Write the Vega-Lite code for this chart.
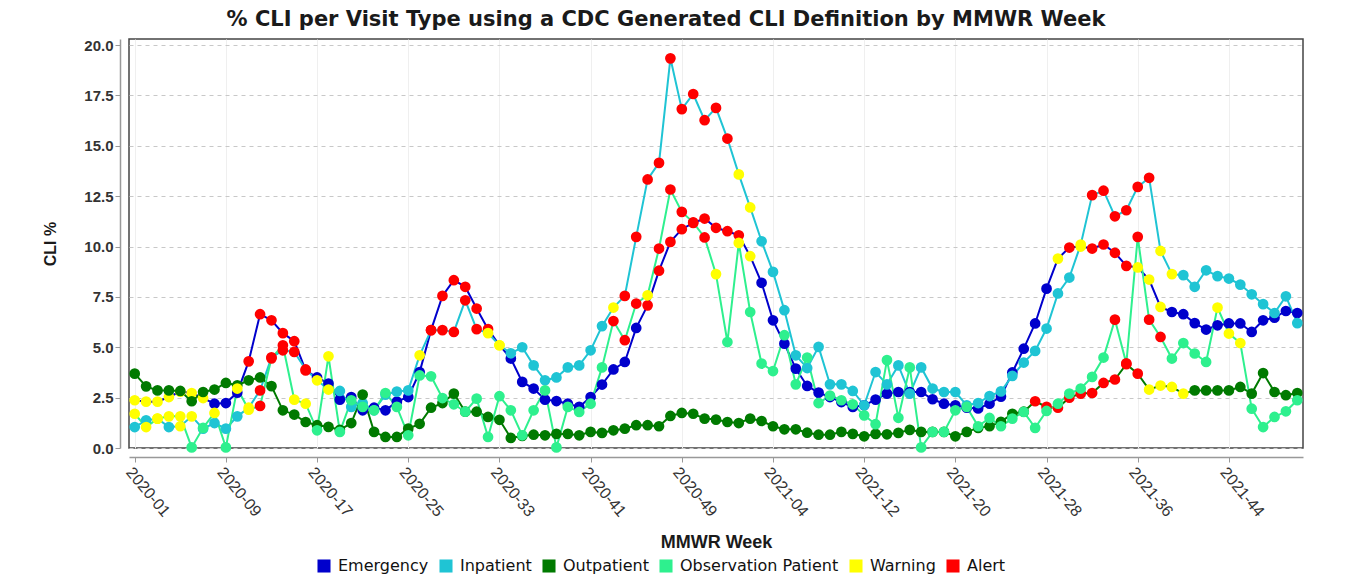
{
"$schema": "https://vega.github.io/schema/vega-lite/v6.json",
"width": 1174, "height": 409,
"autosize": {"type": "none"},
"padding": {"left": 129, "top": 39, "right": 66, "bottom": 132},
"background": "white",
"title": {"text": "% CLI per Visit Type using a CDC Generated CLI Definition by MMWR Week", "font": "DejaVu Sans", "fontSize": 21, "fontWeight": "bold", "color": "#1a1a1a", "offset": 8, "anchor": "middle", "dx": -50},
"config": {"view": {"stroke": "#444444", "strokeWidth": 1.5}, "font": "Liberation Sans"},
"datasets": {"cli": [
{"w":"2020-01","t":"Emergency","v":2.37,"s":"Warning"},{"w":"2020-02","t":"Emergency","v":2.3,"s":"Warning"},{"w":"2020-03","t":"Emergency","v":2.3,"s":"Warning"},{"w":"2020-04","t":"Emergency","v":2.53,"s":"Warning"},{"w":"2020-05","t":"Emergency","v":2.8,"s":"Warning"},{"w":"2020-06","t":"Emergency","v":2.73,"s":"Warning"},{"w":"2020-07","t":"Emergency","v":2.48,"s":"Warning"},{"w":"2020-08","t":"Emergency","v":2.2,"s":"Emergency"},{"w":"2020-09","t":"Emergency","v":2.23,"s":"Emergency"},{"w":"2020-10","t":"Emergency","v":2.75,"s":"Emergency"},
{"w":"2020-11","t":"Emergency","v":4.3,"s":"Alert"},{"w":"2020-12","t":"Emergency","v":6.64,"s":"Alert"},{"w":"2020-13","t":"Emergency","v":6.34,"s":"Alert"},{"w":"2020-14","t":"Emergency","v":5.7,"s":"Alert"},{"w":"2020-15","t":"Emergency","v":5.3,"s":"Alert"},{"w":"2020-16","t":"Emergency","v":3.85,"s":"Alert"},{"w":"2020-17","t":"Emergency","v":3.5,"s":"Emergency"},{"w":"2020-18","t":"Emergency","v":3.2,"s":"Emergency"},{"w":"2020-19","t":"Emergency","v":2.4,"s":"Emergency"},{"w":"2020-20","t":"Emergency","v":2.53,"s":"Emergency"},
{"w":"2020-21","t":"Emergency","v":1.87,"s":"Emergency"},{"w":"2020-22","t":"Emergency","v":2.0,"s":"Emergency"},{"w":"2020-23","t":"Emergency","v":1.87,"s":"Emergency"},{"w":"2020-24","t":"Emergency","v":2.3,"s":"Emergency"},{"w":"2020-25","t":"Emergency","v":2.53,"s":"Emergency"},{"w":"2020-26","t":"Emergency","v":3.77,"s":"Emergency"},{"w":"2020-27","t":"Emergency","v":5.85,"s":"Alert"},{"w":"2020-28","t":"Emergency","v":7.55,"s":"Alert"},{"w":"2020-29","t":"Emergency","v":8.33,"s":"Alert"},{"w":"2020-30","t":"Emergency","v":8.0,"s":"Alert"},
{"w":"2020-31","t":"Emergency","v":6.92,"s":"Alert"},{"w":"2020-32","t":"Emergency","v":5.9,"s":"Alert"},{"w":"2020-33","t":"Emergency","v":5.1,"s":"Warning"},{"w":"2020-34","t":"Emergency","v":4.44,"s":"Emergency"},{"w":"2020-35","t":"Emergency","v":3.28,"s":"Emergency"},{"w":"2020-36","t":"Emergency","v":2.95,"s":"Emergency"},{"w":"2020-37","t":"Emergency","v":2.4,"s":"Emergency"},{"w":"2020-38","t":"Emergency","v":2.33,"s":"Emergency"},{"w":"2020-39","t":"Emergency","v":2.2,"s":"Emergency"},{"w":"2020-40","t":"Emergency","v":2.04,"s":"Emergency"},
{"w":"2020-41","t":"Emergency","v":2.53,"s":"Emergency"},{"w":"2020-42","t":"Emergency","v":3.15,"s":"Emergency"},{"w":"2020-43","t":"Emergency","v":3.9,"s":"Emergency"},{"w":"2020-44","t":"Emergency","v":4.27,"s":"Emergency"},{"w":"2020-45","t":"Emergency","v":5.96,"s":"Emergency"},{"w":"2020-46","t":"Emergency","v":7.08,"s":"Alert"},{"w":"2020-47","t":"Emergency","v":8.8,"s":"Alert"},{"w":"2020-48","t":"Emergency","v":10.23,"s":"Alert"},{"w":"2020-49","t":"Emergency","v":10.86,"s":"Alert"},{"w":"2020-50","t":"Emergency","v":11.17,"s":"Alert"},
{"w":"2020-51","t":"Emergency","v":11.39,"s":"Alert"},{"w":"2020-52","t":"Emergency","v":10.93,"s":"Alert"},{"w":"2020-53","t":"Emergency","v":10.76,"s":"Alert"},{"w":"2021-01","t":"Emergency","v":10.56,"s":"Alert"},{"w":"2021-02","t":"Emergency","v":9.52,"s":"Warning"},{"w":"2021-03","t":"Emergency","v":8.2,"s":"Emergency"},{"w":"2021-04","t":"Emergency","v":6.34,"s":"Emergency"},{"w":"2021-05","t":"Emergency","v":5.18,"s":"Emergency"},{"w":"2021-06","t":"Emergency","v":3.94,"s":"Emergency"},{"w":"2021-07","t":"Emergency","v":3.08,"s":"Emergency"},
{"w":"2021-08","t":"Emergency","v":2.75,"s":"Emergency"},{"w":"2021-09","t":"Emergency","v":2.53,"s":"Emergency"},{"w":"2021-10","t":"Emergency","v":2.28,"s":"Emergency"},{"w":"2021-11","t":"Emergency","v":2.04,"s":"Emergency"},{"w":"2021-12","t":"Emergency","v":2.12,"s":"Emergency"},{"w":"2021-13","t":"Emergency","v":2.4,"s":"Emergency"},{"w":"2021-14","t":"Emergency","v":2.7,"s":"Emergency"},{"w":"2021-15","t":"Emergency","v":2.78,"s":"Emergency"},{"w":"2021-16","t":"Emergency","v":2.78,"s":"Emergency"},{"w":"2021-17","t":"Emergency","v":2.78,"s":"Emergency"},
{"w":"2021-18","t":"Emergency","v":2.42,"s":"Emergency"},{"w":"2021-19","t":"Emergency","v":2.2,"s":"Emergency"},{"w":"2021-20","t":"Emergency","v":2.12,"s":"Emergency"},{"w":"2021-21","t":"Emergency","v":2.0,"s":"Emergency"},{"w":"2021-22","t":"Emergency","v":1.96,"s":"Emergency"},{"w":"2021-23","t":"Emergency","v":2.2,"s":"Emergency"},{"w":"2021-24","t":"Emergency","v":2.55,"s":"Emergency"},{"w":"2021-25","t":"Emergency","v":3.75,"s":"Emergency"},{"w":"2021-26","t":"Emergency","v":4.93,"s":"Emergency"},{"w":"2021-27","t":"Emergency","v":6.18,"s":"Emergency"},
{"w":"2021-28","t":"Emergency","v":7.91,"s":"Emergency"},{"w":"2021-29","t":"Emergency","v":9.4,"s":"Warning"},{"w":"2021-30","t":"Emergency","v":9.95,"s":"Alert"},{"w":"2021-31","t":"Emergency","v":10.0,"s":"Warning"},{"w":"2021-32","t":"Emergency","v":9.9,"s":"Alert"},{"w":"2021-33","t":"Emergency","v":10.1,"s":"Alert"},{"w":"2021-34","t":"Emergency","v":9.69,"s":"Alert"},{"w":"2021-35","t":"Emergency","v":9.04,"s":"Alert"},{"w":"2021-36","t":"Emergency","v":8.96,"s":"Warning"},{"w":"2021-37","t":"Emergency","v":8.36,"s":"Warning"},
{"w":"2021-38","t":"Emergency","v":7.0,"s":"Warning"},{"w":"2021-39","t":"Emergency","v":6.75,"s":"Emergency"},{"w":"2021-40","t":"Emergency","v":6.64,"s":"Emergency"},{"w":"2021-41","t":"Emergency","v":6.2,"s":"Emergency"},{"w":"2021-42","t":"Emergency","v":5.88,"s":"Emergency"},{"w":"2021-43","t":"Emergency","v":6.09,"s":"Emergency"},{"w":"2021-44","t":"Emergency","v":6.18,"s":"Emergency"},{"w":"2021-45","t":"Emergency","v":6.18,"s":"Emergency"},{"w":"2021-46","t":"Emergency","v":5.76,"s":"Emergency"},{"w":"2021-47","t":"Emergency","v":6.34,"s":"Emergency"},
{"w":"2021-48","t":"Emergency","v":6.47,"s":"Emergency"},{"w":"2021-49","t":"Emergency","v":6.8,"s":"Emergency"},{"w":"2021-50","t":"Emergency","v":6.7,"s":"Emergency"},

{"w":"2020-01","t":"Inpatient","v":1.04,"s":"Inpatient"},{"w":"2020-02","t":"Inpatient","v":1.37,"s":"Inpatient"},{"w":"2020-03","t":"Inpatient","v":1.46,"s":"Warning"},{"w":"2020-04","t":"Inpatient","v":1.04,"s":"Inpatient"},{"w":"2020-05","t":"Inpatient","v":1.08,"s":"Warning"},{"w":"2020-06","t":"Inpatient","v":1.57,"s":"Warning"},{"w":"2020-07","t":"Inpatient","v":0.96,"s":"Inpatient"},{"w":"2020-08","t":"Inpatient","v":1.24,"s":"Inpatient"},{"w":"2020-09","t":"Inpatient","v":0.96,"s":"Inpatient"},{"w":"2020-10","t":"Inpatient","v":1.57,"s":"Inpatient"},
{"w":"2020-11","t":"Inpatient","v":2.0,"s":"Warning"},{"w":"2020-12","t":"Inpatient","v":2.86,"s":"Alert"},{"w":"2020-13","t":"Inpatient","v":4.5,"s":"Alert"},{"w":"2020-14","t":"Inpatient","v":4.85,"s":"Alert"},{"w":"2020-15","t":"Inpatient","v":4.77,"s":"Alert"},{"w":"2020-16","t":"Inpatient","v":3.9,"s":"Alert"},{"w":"2020-17","t":"Inpatient","v":3.36,"s":"Warning"},{"w":"2020-18","t":"Inpatient","v":2.9,"s":"Warning"},{"w":"2020-19","t":"Inpatient","v":2.83,"s":"Inpatient"},{"w":"2020-20","t":"Inpatient","v":2.04,"s":"Inpatient"},
{"w":"2020-21","t":"Inpatient","v":2.23,"s":"Inpatient"},{"w":"2020-22","t":"Inpatient","v":1.87,"s":"Inpatient"},{"w":"2020-23","t":"Inpatient","v":2.65,"s":"Inpatient"},{"w":"2020-24","t":"Inpatient","v":2.8,"s":"Inpatient"},{"w":"2020-25","t":"Inpatient","v":2.86,"s":"Inpatient"},{"w":"2020-26","t":"Inpatient","v":4.6,"s":"Warning"},{"w":"2020-27","t":"Inpatient","v":5.85,"s":"Alert"},{"w":"2020-28","t":"Inpatient","v":5.85,"s":"Alert"},{"w":"2020-29","t":"Inpatient","v":5.76,"s":"Alert"},{"w":"2020-30","t":"Inpatient","v":7.33,"s":"Alert"},
{"w":"2020-31","t":"Inpatient","v":5.9,"s":"Alert"},{"w":"2020-32","t":"Inpatient","v":5.7,"s":"Warning"},{"w":"2020-33","t":"Inpatient","v":5.1,"s":"Warning"},{"w":"2020-34","t":"Inpatient","v":4.7,"s":"Inpatient"},{"w":"2020-35","t":"Inpatient","v":5.0,"s":"Inpatient"},{"w":"2020-36","t":"Inpatient","v":4.1,"s":"Inpatient"},{"w":"2020-37","t":"Inpatient","v":3.36,"s":"Inpatient"},{"w":"2020-38","t":"Inpatient","v":3.5,"s":"Inpatient"},{"w":"2020-39","t":"Inpatient","v":4.0,"s":"Inpatient"},{"w":"2020-40","t":"Inpatient","v":4.1,"s":"Inpatient"},
{"w":"2020-41","t":"Inpatient","v":4.85,"s":"Inpatient"},{"w":"2020-42","t":"Inpatient","v":6.05,"s":"Inpatient"},{"w":"2020-43","t":"Inpatient","v":6.97,"s":"Warning"},{"w":"2020-44","t":"Inpatient","v":7.55,"s":"Alert"},{"w":"2020-45","t":"Inpatient","v":10.48,"s":"Alert"},{"w":"2020-46","t":"Inpatient","v":13.33,"s":"Alert"},{"w":"2020-47","t":"Inpatient","v":14.15,"s":"Alert"},{"w":"2020-48","t":"Inpatient","v":19.34,"s":"Alert"},{"w":"2020-49","t":"Inpatient","v":16.82,"s":"Alert"},{"w":"2020-50","t":"Inpatient","v":17.57,"s":"Alert"},
{"w":"2020-51","t":"Inpatient","v":16.27,"s":"Alert"},{"w":"2020-52","t":"Inpatient","v":16.88,"s":"Alert"},{"w":"2020-53","t":"Inpatient","v":15.36,"s":"Alert"},{"w":"2021-01","t":"Inpatient","v":13.58,"s":"Warning"},{"w":"2021-02","t":"Inpatient","v":11.94,"s":"Warning"},{"w":"2021-03","t":"Inpatient","v":10.26,"s":"Inpatient"},{"w":"2021-04","t":"Inpatient","v":8.74,"s":"Inpatient"},{"w":"2021-05","t":"Inpatient","v":6.84,"s":"Inpatient"},{"w":"2021-06","t":"Inpatient","v":4.6,"s":"Inpatient"},{"w":"2021-07","t":"Inpatient","v":3.97,"s":"Inpatient"},
{"w":"2021-08","t":"Inpatient","v":5.02,"s":"Inpatient"},{"w":"2021-09","t":"Inpatient","v":3.16,"s":"Inpatient"},{"w":"2021-10","t":"Inpatient","v":3.16,"s":"Inpatient"},{"w":"2021-11","t":"Inpatient","v":2.83,"s":"Inpatient"},{"w":"2021-12","t":"Inpatient","v":2.12,"s":"Inpatient"},{"w":"2021-13","t":"Inpatient","v":3.77,"s":"Inpatient"},{"w":"2021-14","t":"Inpatient","v":3.16,"s":"Inpatient"},{"w":"2021-15","t":"Inpatient","v":4.1,"s":"Inpatient"},{"w":"2021-16","t":"Inpatient","v":2.7,"s":"Inpatient"},{"w":"2021-17","t":"Inpatient","v":4.0,"s":"Inpatient"},
{"w":"2021-18","t":"Inpatient","v":2.95,"s":"Inpatient"},{"w":"2021-19","t":"Inpatient","v":2.78,"s":"Inpatient"},{"w":"2021-20","t":"Inpatient","v":2.78,"s":"Inpatient"},{"w":"2021-21","t":"Inpatient","v":2.12,"s":"Inpatient"},{"w":"2021-22","t":"Inpatient","v":2.23,"s":"Inpatient"},{"w":"2021-23","t":"Inpatient","v":2.58,"s":"Inpatient"},{"w":"2021-24","t":"Inpatient","v":2.81,"s":"Inpatient"},{"w":"2021-25","t":"Inpatient","v":3.58,"s":"Inpatient"},{"w":"2021-26","t":"Inpatient","v":4.24,"s":"Inpatient"},{"w":"2021-27","t":"Inpatient","v":4.82,"s":"Inpatient"},
{"w":"2021-28","t":"Inpatient","v":5.93,"s":"Inpatient"},{"w":"2021-29","t":"Inpatient","v":7.67,"s":"Inpatient"},{"w":"2021-30","t":"Inpatient","v":8.46,"s":"Inpatient"},{"w":"2021-31","t":"Inpatient","v":10.1,"s":"Warning"},{"w":"2021-32","t":"Inpatient","v":12.55,"s":"Alert"},{"w":"2021-33","t":"Inpatient","v":12.77,"s":"Alert"},{"w":"2021-34","t":"Inpatient","v":11.5,"s":"Alert"},{"w":"2021-35","t":"Inpatient","v":11.8,"s":"Alert"},{"w":"2021-36","t":"Inpatient","v":12.96,"s":"Alert"},{"w":"2021-37","t":"Inpatient","v":13.41,"s":"Alert"},
{"w":"2021-38","t":"Inpatient","v":9.78,"s":"Warning"},{"w":"2021-39","t":"Inpatient","v":8.63,"s":"Warning"},{"w":"2021-40","t":"Inpatient","v":8.58,"s":"Inpatient"},{"w":"2021-41","t":"Inpatient","v":8.0,"s":"Inpatient"},{"w":"2021-42","t":"Inpatient","v":8.82,"s":"Inpatient"},{"w":"2021-43","t":"Inpatient","v":8.53,"s":"Inpatient"},{"w":"2021-44","t":"Inpatient","v":8.41,"s":"Inpatient"},{"w":"2021-45","t":"Inpatient","v":8.11,"s":"Inpatient"},{"w":"2021-46","t":"Inpatient","v":7.63,"s":"Inpatient"},{"w":"2021-47","t":"Inpatient","v":7.14,"s":"Inpatient"},
{"w":"2021-48","t":"Inpatient","v":6.7,"s":"Inpatient"},{"w":"2021-49","t":"Inpatient","v":7.53,"s":"Inpatient"},{"w":"2021-50","t":"Inpatient","v":6.2,"s":"Inpatient"},

{"w":"2020-01","t":"Outpatient","v":3.69,"s":"Outpatient"},{"w":"2020-02","t":"Outpatient","v":3.06,"s":"Outpatient"},{"w":"2020-03","t":"Outpatient","v":2.86,"s":"Outpatient"},{"w":"2020-04","t":"Outpatient","v":2.86,"s":"Outpatient"},{"w":"2020-05","t":"Outpatient","v":2.83,"s":"Outpatient"},{"w":"2020-06","t":"Outpatient","v":2.32,"s":"Outpatient"},{"w":"2020-07","t":"Outpatient","v":2.78,"s":"Outpatient"},{"w":"2020-08","t":"Outpatient","v":2.9,"s":"Outpatient"},{"w":"2020-09","t":"Outpatient","v":3.23,"s":"Outpatient"},{"w":"2020-10","t":"Outpatient","v":3.11,"s":"Outpatient"},
{"w":"2020-11","t":"Outpatient","v":3.36,"s":"Outpatient"},{"w":"2020-12","t":"Outpatient","v":3.5,"s":"Outpatient"},{"w":"2020-13","t":"Outpatient","v":3.07,"s":"Outpatient"},{"w":"2020-14","t":"Outpatient","v":1.87,"s":"Outpatient"},{"w":"2020-15","t":"Outpatient","v":1.66,"s":"Outpatient"},{"w":"2020-16","t":"Outpatient","v":1.29,"s":"Outpatient"},{"w":"2020-17","t":"Outpatient","v":1.13,"s":"Outpatient"},{"w":"2020-18","t":"Outpatient","v":1.05,"s":"Outpatient"},{"w":"2020-19","t":"Outpatient","v":0.9,"s":"Outpatient"},{"w":"2020-20","t":"Outpatient","v":1.24,"s":"Outpatient"},
{"w":"2020-21","t":"Outpatient","v":2.65,"s":"Outpatient"},{"w":"2020-22","t":"Outpatient","v":0.8,"s":"Outpatient"},{"w":"2020-23","t":"Outpatient","v":0.55,"s":"Outpatient"},{"w":"2020-24","t":"Outpatient","v":0.55,"s":"Outpatient"},{"w":"2020-25","t":"Outpatient","v":0.96,"s":"Outpatient"},{"w":"2020-26","t":"Outpatient","v":1.2,"s":"Outpatient"},{"w":"2020-27","t":"Outpatient","v":2.0,"s":"Outpatient"},{"w":"2020-28","t":"Outpatient","v":2.23,"s":"Outpatient"},{"w":"2020-29","t":"Outpatient","v":2.7,"s":"Outpatient"},{"w":"2020-30","t":"Outpatient","v":1.8,"s":"Outpatient"},
{"w":"2020-31","t":"Outpatient","v":1.8,"s":"Outpatient"},{"w":"2020-32","t":"Outpatient","v":1.54,"s":"Outpatient"},{"w":"2020-33","t":"Outpatient","v":1.4,"s":"Outpatient"},{"w":"2020-34","t":"Outpatient","v":0.5,"s":"Outpatient"},{"w":"2020-35","t":"Outpatient","v":0.6,"s":"Outpatient"},{"w":"2020-36","t":"Outpatient","v":0.66,"s":"Outpatient"},{"w":"2020-37","t":"Outpatient","v":0.63,"s":"Outpatient"},{"w":"2020-38","t":"Outpatient","v":0.7,"s":"Outpatient"},{"w":"2020-39","t":"Outpatient","v":0.7,"s":"Outpatient"},{"w":"2020-40","t":"Outpatient","v":0.63,"s":"Outpatient"},
{"w":"2020-41","t":"Outpatient","v":0.8,"s":"Outpatient"},{"w":"2020-42","t":"Outpatient","v":0.75,"s":"Outpatient"},{"w":"2020-43","t":"Outpatient","v":0.88,"s":"Outpatient"},{"w":"2020-44","t":"Outpatient","v":0.96,"s":"Outpatient"},{"w":"2020-45","t":"Outpatient","v":1.13,"s":"Outpatient"},{"w":"2020-46","t":"Outpatient","v":1.13,"s":"Outpatient"},{"w":"2020-47","t":"Outpatient","v":1.08,"s":"Outpatient"},{"w":"2020-48","t":"Outpatient","v":1.59,"s":"Outpatient"},{"w":"2020-49","t":"Outpatient","v":1.74,"s":"Outpatient"},{"w":"2020-50","t":"Outpatient","v":1.7,"s":"Outpatient"},
{"w":"2020-51","t":"Outpatient","v":1.46,"s":"Outpatient"},{"w":"2020-52","t":"Outpatient","v":1.41,"s":"Outpatient"},{"w":"2020-53","t":"Outpatient","v":1.29,"s":"Outpatient"},{"w":"2021-01","t":"Outpatient","v":1.24,"s":"Outpatient"},{"w":"2021-02","t":"Outpatient","v":1.46,"s":"Outpatient"},{"w":"2021-03","t":"Outpatient","v":1.34,"s":"Outpatient"},{"w":"2021-04","t":"Outpatient","v":1.08,"s":"Outpatient"},{"w":"2021-05","t":"Outpatient","v":0.93,"s":"Outpatient"},{"w":"2021-06","t":"Outpatient","v":0.93,"s":"Outpatient"},{"w":"2021-07","t":"Outpatient","v":0.76,"s":"Outpatient"},
{"w":"2021-08","t":"Outpatient","v":0.66,"s":"Outpatient"},{"w":"2021-09","t":"Outpatient","v":0.66,"s":"Outpatient"},{"w":"2021-10","t":"Outpatient","v":0.8,"s":"Outpatient"},{"w":"2021-11","t":"Outpatient","v":0.7,"s":"Outpatient"},{"w":"2021-12","t":"Outpatient","v":0.58,"s":"Outpatient"},{"w":"2021-13","t":"Outpatient","v":0.7,"s":"Outpatient"},{"w":"2021-14","t":"Outpatient","v":0.68,"s":"Outpatient"},{"w":"2021-15","t":"Outpatient","v":0.75,"s":"Outpatient"},{"w":"2021-16","t":"Outpatient","v":0.9,"s":"Outpatient"},{"w":"2021-17","t":"Outpatient","v":0.8,"s":"Outpatient"},
{"w":"2021-18","t":"Outpatient","v":0.8,"s":"Outpatient"},{"w":"2021-19","t":"Outpatient","v":0.8,"s":"Outpatient"},{"w":"2021-20","t":"Outpatient","v":0.58,"s":"Outpatient"},{"w":"2021-21","t":"Outpatient","v":0.8,"s":"Outpatient"},{"w":"2021-22","t":"Outpatient","v":1.0,"s":"Outpatient"},{"w":"2021-23","t":"Outpatient","v":1.08,"s":"Outpatient"},{"w":"2021-24","t":"Outpatient","v":1.3,"s":"Outpatient"},{"w":"2021-25","t":"Outpatient","v":1.7,"s":"Outpatient"},{"w":"2021-26","t":"Outpatient","v":1.8,"s":"Outpatient"},{"w":"2021-27","t":"Outpatient","v":2.32,"s":"Alert"},
{"w":"2021-28","t":"Outpatient","v":2.04,"s":"Alert"},{"w":"2021-29","t":"Outpatient","v":2.0,"s":"Alert"},{"w":"2021-30","t":"Outpatient","v":2.5,"s":"Alert"},{"w":"2021-31","t":"Outpatient","v":2.7,"s":"Alert"},{"w":"2021-32","t":"Outpatient","v":2.73,"s":"Alert"},{"w":"2021-33","t":"Outpatient","v":3.23,"s":"Alert"},{"w":"2021-34","t":"Outpatient","v":3.4,"s":"Alert"},{"w":"2021-35","t":"Outpatient","v":4.16,"s":"Alert"},{"w":"2021-36","t":"Outpatient","v":3.69,"s":"Alert"},{"w":"2021-37","t":"Outpatient","v":2.9,"s":"Warning"},
{"w":"2021-38","t":"Outpatient","v":3.1,"s":"Warning"},{"w":"2021-39","t":"Outpatient","v":3.03,"s":"Warning"},{"w":"2021-40","t":"Outpatient","v":2.7,"s":"Warning"},{"w":"2021-41","t":"Outpatient","v":2.86,"s":"Outpatient"},{"w":"2021-42","t":"Outpatient","v":2.86,"s":"Outpatient"},{"w":"2021-43","t":"Outpatient","v":2.86,"s":"Outpatient"},{"w":"2021-44","t":"Outpatient","v":2.86,"s":"Outpatient"},{"w":"2021-45","t":"Outpatient","v":3.03,"s":"Outpatient"},{"w":"2021-46","t":"Outpatient","v":2.7,"s":"Outpatient"},{"w":"2021-47","t":"Outpatient","v":3.72,"s":"Outpatient"},
{"w":"2021-48","t":"Outpatient","v":2.78,"s":"Outpatient"},{"w":"2021-49","t":"Outpatient","v":2.62,"s":"Outpatient"},{"w":"2021-50","t":"Outpatient","v":2.73,"s":"Outpatient"},

{"w":"2020-01","t":"Observation Patient","v":1.7,"s":"Warning"},{"w":"2020-02","t":"Observation Patient","v":1.04,"s":"Warning"},{"w":"2020-03","t":"Observation Patient","v":1.46,"s":"Warning"},{"w":"2020-04","t":"Observation Patient","v":1.57,"s":"Warning"},{"w":"2020-05","t":"Observation Patient","v":1.57,"s":"Warning"},{"w":"2020-06","t":"Observation Patient","v":0.03,"s":"Observation Patient"},{"w":"2020-07","t":"Observation Patient","v":1.0,"s":"Observation Patient"},{"w":"2020-08","t":"Observation Patient","v":1.74,"s":"Warning"},{"w":"2020-09","t":"Observation Patient","v":0.03,"s":"Observation Patient"},{"w":"2020-10","t":"Observation Patient","v":2.95,"s":"Warning"},
{"w":"2020-11","t":"Observation Patient","v":1.9,"s":"Warning"},{"w":"2020-12","t":"Observation Patient","v":2.09,"s":"Alert"},{"w":"2020-13","t":"Observation Patient","v":4.45,"s":"Alert"},{"w":"2020-14","t":"Observation Patient","v":5.1,"s":"Alert"},{"w":"2020-15","t":"Observation Patient","v":2.4,"s":"Warning"},{"w":"2020-16","t":"Observation Patient","v":2.2,"s":"Warning"},{"w":"2020-17","t":"Observation Patient","v":0.88,"s":"Observation Patient"},{"w":"2020-18","t":"Observation Patient","v":4.55,"s":"Warning"},{"w":"2020-19","t":"Observation Patient","v":0.8,"s":"Observation Patient"},{"w":"2020-20","t":"Observation Patient","v":2.37,"s":"Observation Patient"},
{"w":"2020-21","t":"Observation Patient","v":2.04,"s":"Observation Patient"},{"w":"2020-22","t":"Observation Patient","v":1.87,"s":"Observation Patient"},{"w":"2020-23","t":"Observation Patient","v":2.73,"s":"Observation Patient"},{"w":"2020-24","t":"Observation Patient","v":2.04,"s":"Observation Patient"},{"w":"2020-25","t":"Observation Patient","v":0.63,"s":"Observation Patient"},{"w":"2020-26","t":"Observation Patient","v":3.6,"s":"Observation Patient"},{"w":"2020-27","t":"Observation Patient","v":3.56,"s":"Observation Patient"},{"w":"2020-28","t":"Observation Patient","v":2.48,"s":"Observation Patient"},{"w":"2020-29","t":"Observation Patient","v":2.17,"s":"Observation Patient"},{"w":"2020-30","t":"Observation Patient","v":1.8,"s":"Observation Patient"},
{"w":"2020-31","t":"Observation Patient","v":2.45,"s":"Observation Patient"},{"w":"2020-32","t":"Observation Patient","v":0.55,"s":"Observation Patient"},{"w":"2020-33","t":"Observation Patient","v":2.57,"s":"Observation Patient"},{"w":"2020-34","t":"Observation Patient","v":1.87,"s":"Observation Patient"},{"w":"2020-35","t":"Observation Patient","v":0.63,"s":"Observation Patient"},{"w":"2020-36","t":"Observation Patient","v":1.87,"s":"Observation Patient"},{"w":"2020-37","t":"Observation Patient","v":2.86,"s":"Observation Patient"},{"w":"2020-38","t":"Observation Patient","v":0.03,"s":"Observation Patient"},{"w":"2020-39","t":"Observation Patient","v":2.04,"s":"Observation Patient"},{"w":"2020-40","t":"Observation Patient","v":1.79,"s":"Observation Patient"},
{"w":"2020-41","t":"Observation Patient","v":2.2,"s":"Observation Patient"},{"w":"2020-42","t":"Observation Patient","v":4.0,"s":"Observation Patient"},{"w":"2020-43","t":"Observation Patient","v":6.3,"s":"Alert"},{"w":"2020-44","t":"Observation Patient","v":5.35,"s":"Alert"},{"w":"2020-45","t":"Observation Patient","v":7.17,"s":"Alert"},{"w":"2020-46","t":"Observation Patient","v":7.58,"s":"Warning"},{"w":"2020-47","t":"Observation Patient","v":9.9,"s":"Alert"},{"w":"2020-48","t":"Observation Patient","v":12.83,"s":"Alert"},{"w":"2020-49","t":"Observation Patient","v":11.72,"s":"Alert"},{"w":"2020-50","t":"Observation Patient","v":11.2,"s":"Alert"},
{"w":"2020-51","t":"Observation Patient","v":10.45,"s":"Alert"},{"w":"2020-52","t":"Observation Patient","v":8.63,"s":"Warning"},{"w":"2020-53","t":"Observation Patient","v":5.26,"s":"Observation Patient"},{"w":"2021-01","t":"Observation Patient","v":10.18,"s":"Warning"},{"w":"2021-02","t":"Observation Patient","v":6.75,"s":"Observation Patient"},{"w":"2021-03","t":"Observation Patient","v":4.19,"s":"Observation Patient"},{"w":"2021-04","t":"Observation Patient","v":3.82,"s":"Observation Patient"},{"w":"2021-05","t":"Observation Patient","v":5.6,"s":"Observation Patient"},{"w":"2021-06","t":"Observation Patient","v":3.16,"s":"Observation Patient"},{"w":"2021-07","t":"Observation Patient","v":4.49,"s":"Observation Patient"},
{"w":"2021-08","t":"Observation Patient","v":2.23,"s":"Observation Patient"},{"w":"2021-09","t":"Observation Patient","v":2.6,"s":"Observation Patient"},{"w":"2021-10","t":"Observation Patient","v":2.37,"s":"Observation Patient"},{"w":"2021-11","t":"Observation Patient","v":2.17,"s":"Observation Patient"},{"w":"2021-12","t":"Observation Patient","v":1.62,"s":"Observation Patient"},{"w":"2021-13","t":"Observation Patient","v":1.18,"s":"Observation Patient"},{"w":"2021-14","t":"Observation Patient","v":4.36,"s":"Observation Patient"},{"w":"2021-15","t":"Observation Patient","v":1.5,"s":"Observation Patient"},{"w":"2021-16","t":"Observation Patient","v":4.0,"s":"Observation Patient"},{"w":"2021-17","t":"Observation Patient","v":0.03,"s":"Observation Patient"},
{"w":"2021-18","t":"Observation Patient","v":0.8,"s":"Observation Patient"},{"w":"2021-19","t":"Observation Patient","v":0.8,"s":"Observation Patient"},{"w":"2021-20","t":"Observation Patient","v":1.87,"s":"Observation Patient"},{"w":"2021-21","t":"Observation Patient","v":2.04,"s":"Observation Patient"},{"w":"2021-22","t":"Observation Patient","v":1.08,"s":"Observation Patient"},{"w":"2021-23","t":"Observation Patient","v":1.49,"s":"Observation Patient"},{"w":"2021-24","t":"Observation Patient","v":1.08,"s":"Observation Patient"},{"w":"2021-25","t":"Observation Patient","v":1.46,"s":"Observation Patient"},{"w":"2021-26","t":"Observation Patient","v":1.79,"s":"Observation Patient"},{"w":"2021-27","t":"Observation Patient","v":1.0,"s":"Observation Patient"},
{"w":"2021-28","t":"Observation Patient","v":1.84,"s":"Observation Patient"},{"w":"2021-29","t":"Observation Patient","v":2.2,"s":"Observation Patient"},{"w":"2021-30","t":"Observation Patient","v":2.7,"s":"Observation Patient"},{"w":"2021-31","t":"Observation Patient","v":2.95,"s":"Observation Patient"},{"w":"2021-32","t":"Observation Patient","v":3.53,"s":"Observation Patient"},{"w":"2021-33","t":"Observation Patient","v":4.49,"s":"Observation Patient"},{"w":"2021-34","t":"Observation Patient","v":6.37,"s":"Alert"},{"w":"2021-35","t":"Observation Patient","v":4.2,"s":"Alert"},{"w":"2021-36","t":"Observation Patient","v":10.48,"s":"Alert"},{"w":"2021-37","t":"Observation Patient","v":6.37,"s":"Alert"},
{"w":"2021-38","t":"Observation Patient","v":5.51,"s":"Alert"},{"w":"2021-39","t":"Observation Patient","v":4.44,"s":"Observation Patient"},{"w":"2021-40","t":"Observation Patient","v":5.21,"s":"Observation Patient"},{"w":"2021-41","t":"Observation Patient","v":4.69,"s":"Observation Patient"},{"w":"2021-42","t":"Observation Patient","v":4.27,"s":"Observation Patient"},{"w":"2021-43","t":"Observation Patient","v":6.97,"s":"Warning"},{"w":"2021-44","t":"Observation Patient","v":5.68,"s":"Warning"},{"w":"2021-45","t":"Observation Patient","v":5.21,"s":"Warning"},{"w":"2021-46","t":"Observation Patient","v":1.95,"s":"Observation Patient"},{"w":"2021-47","t":"Observation Patient","v":1.04,"s":"Observation Patient"},
{"w":"2021-48","t":"Observation Patient","v":1.54,"s":"Observation Patient"},{"w":"2021-49","t":"Observation Patient","v":1.82,"s":"Observation Patient"},{"w":"2021-50","t":"Observation Patient","v":2.37,"s":"Observation Patient"}
]},
"data": {"name": "cli"},
"encoding": {
  "x": {"field": "w", "type": "ordinal", "scale": {"type": "point", "padding": 0.5},
    "axis": {"values": ["2020-01","2020-09","2020-17","2020-25","2020-33","2020-41","2020-49","2021-04","2021-12","2021-20","2021-28","2021-36","2021-44"],
      "title": "MMWR Week", "titleFont": "Liberation Sans", "titleFontSize": 18, "titleFontWeight": "bold", "titleColor": "#1a1a1a", "titlePadding": 14,
      "labelAngle": 50, "labelAlign": "left", "labelBaseline": "top", "labelFont": "Liberation Sans", "labelFontSize": 16, "labelColor": "#333333", "labelPadding": 2,
      "offset": 9, "grid": true, "gridColor": "#efefef", "tickColor": "#999999", "tickSize": 5, "domainColor": "#999999", "domainWidth": 1.5}},
  "y": {"field": "v", "type": "quantitative", "scale": {"domain": [0, 20.3], "nice": false},
    "axis": {"values": [0,2.5,5,7.5,10,12.5,15,17.5,20], "format": ".1f",
      "title": "CLI %", "titleFont": "Liberation Sans", "titleFontSize": 16, "titleFontWeight": "bold", "titleColor": "#1a1a1a", "titlePadding": 25,
      "labelFont": "Liberation Sans", "labelFontSize": 15, "labelFontWeight": "bold", "labelColor": "#333333",
      "offset": 9, "grid": true, "gridDash": [4, 4], "gridColor": "#c8c8c8", "tickColor": "#999999", "tickSize": 5, "domainColor": "#999999", "domainWidth": 1.5}}
},
"layer": [
  {"mark": {"type": "line", "strokeWidth": 2},
   "encoding": {"stroke": {"field": "t", "type": "nominal",
      "scale": {"domain": ["Emergency","Inpatient","Outpatient","Observation Patient"], "range": ["#0000cc","#1fc4d4","#007a00","#2ef08e"]},
      "legend": null}}},
  {"mark": {"type": "point", "filled": true, "size": 115, "opacity": 1, "shape": "circle"},
   "encoding": {"color": {"field": "s", "type": "nominal",
      "scale": {"domain": ["Emergency","Inpatient","Outpatient","Observation Patient","Warning","Alert"], "range": ["#0000cc","#1fc4d4","#007a00","#2ef08e","#ffff00","#ff0000"]},
      "legend": {"orient": "none", "legendX": 187, "legendY": 519, "direction": "horizontal", "title": null,
        "symbolType": "square", "symbolSize": 170, "symbolStrokeWidth": 0, "labelFont": "DejaVu Sans", "labelFontSize": 16, "labelColor": "#111111", "labelOffset": 6, "columnPadding": 9}}}}
]
}
